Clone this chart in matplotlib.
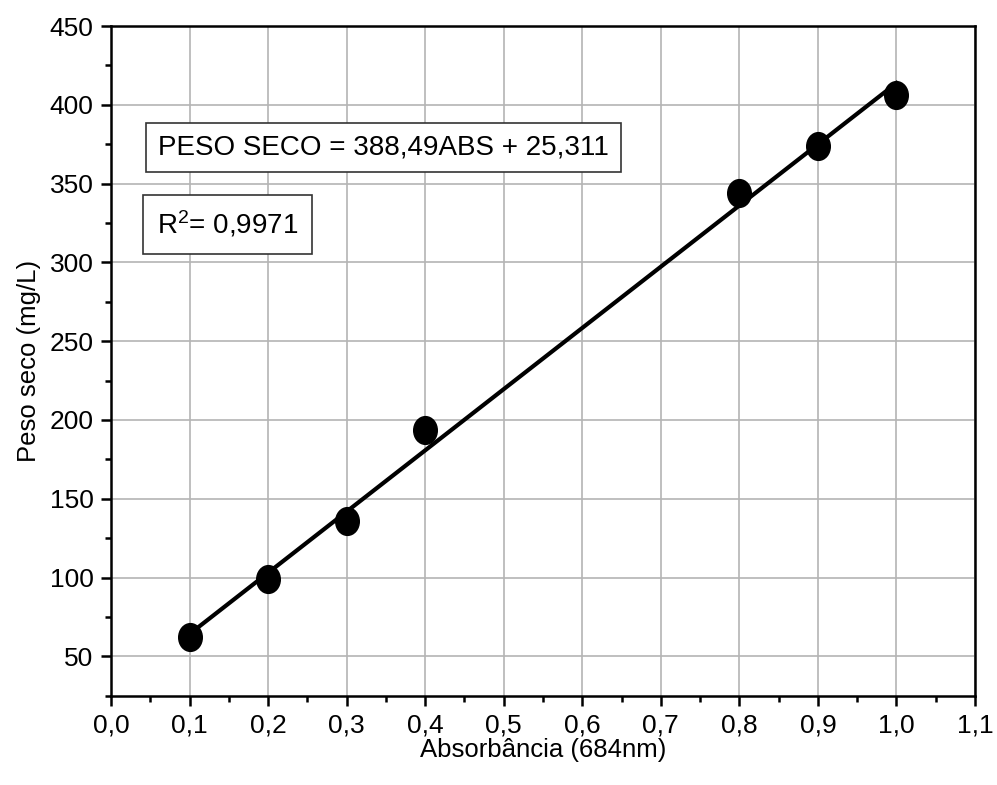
import numpy as np
import matplotlib.pyplot as plt
from matplotlib.path import Path
from matplotlib.transforms import Affine2D

plt.rcParams['font.family'] = ['Liberation Sans', 'DejaVu Sans']
plt.rcParams['mathtext.fontset'] = 'custom'
plt.rcParams['mathtext.rm'] = 'Liberation Sans'
plt.rcParams['mathtext.it'] = 'Liberation Sans'

# dados
absorbancia = [0.1, 0.2, 0.3, 0.4, 0.8, 0.9, 1.0]
peso_seco = [62.5, 99.2, 135.8, 193.8, 344.2, 373.8, 406.2]
coef_a = 388.49
coef_b = 25.311
x_ticks = [0.0, 0.1, 0.2, 0.3, 0.4, 0.5, 0.6, 0.7, 0.8, 0.9, 1.0, 1.1]
y_ticks = [50, 100, 150, 200, 250, 300, 350, 400, 450]

fig = plt.figure(figsize=(9.97, 7.85), dpi=100)
ax = fig.add_axes([0.1113, 0.1137, 0.8666, 0.8531])

xf = np.array([min(absorbancia), max(absorbancia)])
ax.plot(xf, coef_a * xf + coef_b, color='black', lw=3.0, zorder=3)

# marcador eliptico (um pouco mais alto que largo)
elipse = Path.unit_circle().transformed(Affine2D().scale(0.85, 1.0))
ax.plot(absorbancia, peso_seco, linestyle='none', marker=elipse,
        markersize=20, color='black', zorder=4)

ax.set_xlim(0, 1.1)
ax.set_ylim(25, 450)
ax.set_xticks(x_ticks)
ax.set_xticklabels([('%.1f' % v).replace('.', ',') for v in x_ticks])
ax.set_yticks(y_ticks)
ax.set_xticks(np.arange(0.05, 1.1, 0.1), minor=True)
ax.set_yticks(np.arange(25, 450, 50), minor=True)
ax.grid(True, which='major', color='#b4b4b4', lw=1.2, zorder=0)
ax.set_axisbelow(True)

for s in ax.spines.values():
    s.set_linewidth(1.8)
ax.tick_params(which='major', direction='out', length=7.5, width=1.8, labelsize=19, pad=5)
ax.tick_params(which='minor', direction='out', length=4, width=1.8)

ax.set_xlabel('Absorbância (684nm)', fontsize=18.5, labelpad=1)
ax.set_ylabel('Peso seco (mg/L)', fontsize=18.5, labelpad=6)

ax.text(0.0545, 0.819, 'PESO SECO = 388,49ABS + 25,311', transform=ax.transAxes,
        fontsize=20, va='center', ha='left',
        bbox=dict(boxstyle='square,pad=0.42', fc='white', ec='#333333', lw=1.2))
ax.text(0.053, 0.704, r'R$^2$= 0,9971', transform=ax.transAxes,
        fontsize=20, va='center', ha='left',
        bbox=dict(boxstyle='square,pad=0.5', fc='white', ec='#333333', lw=1.2))

fig.savefig('out.png', dpi=100)
